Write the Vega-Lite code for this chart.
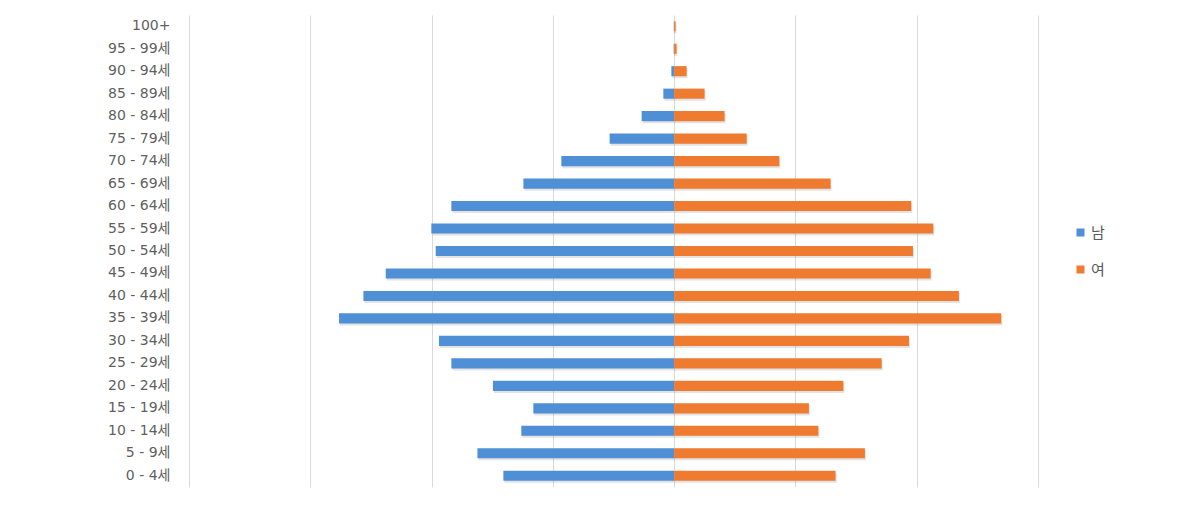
{
  "$schema": "https://vega.github.io/schema/vega-lite/v6.json",
  "width": 849,
  "height": 472,
  "autosize": {"type": "none"},
  "padding": {"left": 189, "top": 15, "right": 163, "bottom": 26},
  "background": "white",
  "config": {
    "view": {"stroke": null},
    "font": "Noto Sans CJK KR"
  },
  "data": {
    "values": [
      {"age": "100+", "sex": "남", "value": -300},
      {"age": "95 - 99세", "sex": "남", "value": -400},
      {"age": "90 - 94세", "sex": "남", "value": -2300},
      {"age": "85 - 89세", "sex": "남", "value": -8900},
      {"age": "80 - 84세", "sex": "남", "value": -26800},
      {"age": "75 - 79세", "sex": "남", "value": -53200},
      {"age": "70 - 74세", "sex": "남", "value": -93000},
      {"age": "65 - 69세", "sex": "남", "value": -124300},
      {"age": "60 - 64세", "sex": "남", "value": -183700},
      {"age": "55 - 59세", "sex": "남", "value": -200200},
      {"age": "50 - 54세", "sex": "남", "value": -196600},
      {"age": "45 - 49세", "sex": "남", "value": -237800},
      {"age": "40 - 44세", "sex": "남", "value": -256200},
      {"age": "35 - 39세", "sex": "남", "value": -276300},
      {"age": "30 - 34세", "sex": "남", "value": -193900},
      {"age": "25 - 29세", "sex": "남", "value": -183700},
      {"age": "20 - 24세", "sex": "남", "value": -149400},
      {"age": "15 - 19세", "sex": "남", "value": -116100},
      {"age": "10 - 14세", "sex": "남", "value": -126000},
      {"age": "5 - 9세", "sex": "남", "value": -162200},
      {"age": "0 - 4세", "sex": "남", "value": -140800},
      {"age": "100+", "sex": "여", "value": 1200},
      {"age": "95 - 99세", "sex": "여", "value": 2000},
      {"age": "90 - 94세", "sex": "여", "value": 10300},
      {"age": "85 - 89세", "sex": "여", "value": 25100},
      {"age": "80 - 84세", "sex": "여", "value": 41600},
      {"age": "75 - 79세", "sex": "여", "value": 59800},
      {"age": "70 - 74세", "sex": "여", "value": 86700},
      {"age": "65 - 69세", "sex": "여", "value": 129000},
      {"age": "60 - 64세", "sex": "여", "value": 195500},
      {"age": "55 - 59세", "sex": "여", "value": 213700},
      {"age": "50 - 54세", "sex": "여", "value": 196900},
      {"age": "45 - 49세", "sex": "여", "value": 211500},
      {"age": "40 - 44세", "sex": "여", "value": 234800},
      {"age": "35 - 39세", "sex": "여", "value": 269700},
      {"age": "30 - 34세", "sex": "여", "value": 193600},
      {"age": "25 - 29세", "sex": "여", "value": 171100},
      {"age": "20 - 24세", "sex": "여", "value": 139500},
      {"age": "15 - 19세", "sex": "여", "value": 111100},
      {"age": "10 - 14세", "sex": "여", "value": 118900},
      {"age": "5 - 9세", "sex": "여", "value": 157300},
      {"age": "0 - 4세", "sex": "여", "value": 133100}
    ]
  },
  "encoding": {
    "y": {
      "field": "age",
      "type": "nominal",
      "sort": ["100+", "95 - 99세", "90 - 94세", "85 - 89세", "80 - 84세", "75 - 79세", "70 - 74세", "65 - 69세", "60 - 64세", "55 - 59세", "50 - 54세", "45 - 49세", "40 - 44세", "35 - 39세", "30 - 34세", "25 - 29세", "20 - 24세", "15 - 19세", "10 - 14세", "5 - 9세", "0 - 4세"],
      "scale": {"paddingInner": 0.55, "paddingOuter": 0.275},
      "axis": {
        "title": null,
        "domain": false,
        "ticks": false,
        "grid": false,
        "labelPadding": 19,
        "labelFontSize": 14,
        "labelColor": "#5f5f5f",
        "labelFont": "DejaVu Sans, Noto Sans CJK KR"
      }
    },
    "x": {
      "field": "value",
      "type": "quantitative",
      "stack": null,
      "scale": {"domain": [-400000, 300000], "nice": false},
      "axis": {
        "title": null,
        "labels": false,
        "ticks": false,
        "domain": false,
        "grid": true,
        "gridColor": "#d9d9d9",
        "gridWidth": 1,
        "values": [-400000, -300000, -200000, -100000, 0, 100000, 200000, 300000]
      }
    }
  },
  "layer": [
    {
      "mark": {"type": "bar", "color": "#7f7f7f", "opacity": 0.22, "yOffset": 2, "xOffset": 1}
    },
    {
      "mark": {"type": "bar"},
      "encoding": {
        "color": {
          "field": "sex",
          "type": "nominal",
          "sort": ["남", "여"],
          "scale": {"domain": ["남", "여"], "range": ["#4f8fd6", "#ee7b30"]},
          "legend": {
            "title": null,
            "orient": "none",
            "legendX": 884,
            "legendY": 210,
            "symbolType": "square",
            "symbolSize": 64,
            "symbolStrokeWidth": 0,
            "labelFontSize": 15,
            "labelColor": "#595959",
            "labelFont": "Noto Sans CJK KR",
            "rowPadding": 21,
            "labelOffset": 3
          }
        }
      }
    }
  ]
}
